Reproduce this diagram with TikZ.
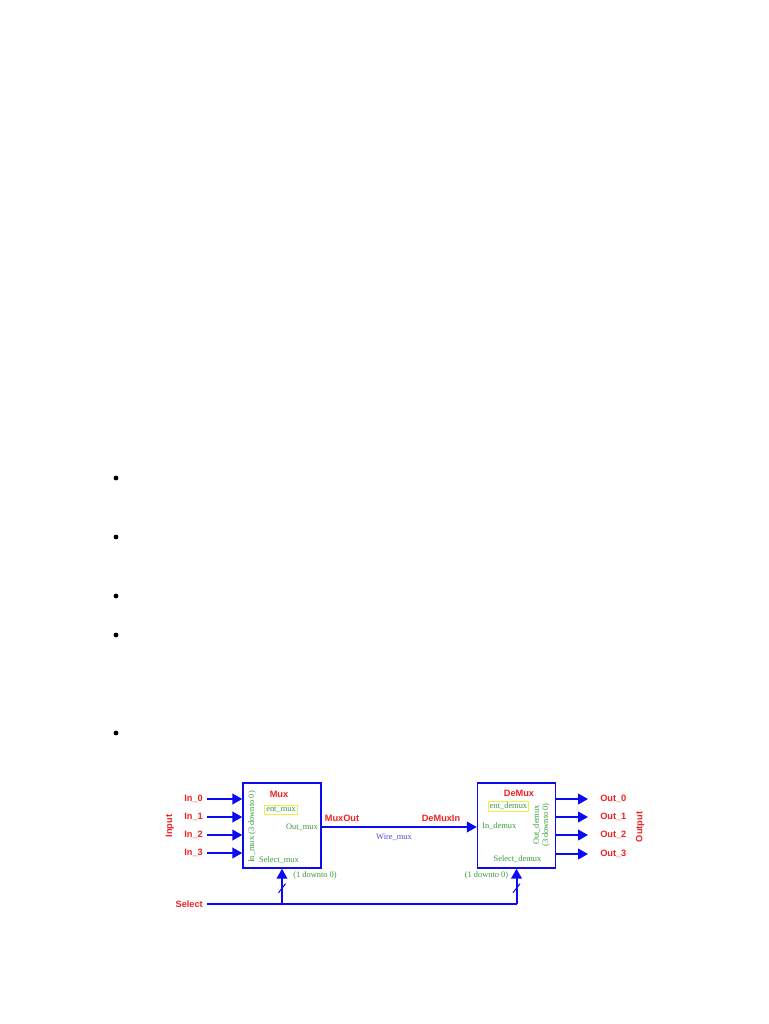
\documentclass[tikz,border=0pt]{standalone}
\usepackage{fontspec}
\setmainfont{Liberation Serif}
\setsansfont{Liberation Sans}
\usepackage{xcolor}
\usepackage{tikz}
\usetikzlibrary{arrows.meta, positioning, calc}
\definecolor{WireBlue}{HTML}{0A0AF5}
\definecolor{PortRed}{HTML}{F02020}
\definecolor{TextGreen}{HTML}{359A35}
\definecolor{EntYellow}{HTML}{EEEE44}
\definecolor{WireText}{HTML}{4A4AD8}

\begin{document}
\begin{tikzpicture}[x=0.75pt, y=-0.75pt, >={Triangle[length=7.5pt,width=8pt]}]
    \tikzstyle{block} = [rectangle, draw=WireBlue, line width=1.1pt, minimum width=58.5pt, minimum height=63.75pt, inner sep=0pt]
    \tikzstyle{wire} = [draw=WireBlue, line width=1.5pt]
    \tikzstyle{port} = [text=PortRed, font=\sffamily\bfseries\fontsize{6.9}{8}\selectfont, inner sep=0pt]
    \tikzstyle{pin} = [text=TextGreen, font=\fontsize{6.3}{7}\selectfont, inner sep=0pt]
    \tikzstyle{ent} = [pin, draw=EntYellow, line width=0.6pt, inner sep=1.2pt]
    \tikzstyle{bullet} = [circle, fill=black, inner sep=0pt, minimum size=3.6pt]

    \useasboundingbox (0,0) rectangle (768,1024);

    % bullets of the list above the picture
    \foreach \i/\y in {1/478, 2/537, 3/596, 4/635, 5/733}
        \node [bullet] (b\i) at (116,\y) {};

    % the two entities
    \node [block] (mux) at (282,825.5) {};
    \node [block] (demux) at (516.5,825.5) {};

    \node [port] (muxname) at (279,794) {Mux};
    \node [ent] (entmux) at (281,809.5) {ent\_mux};
    \node [pin, anchor=east] (outmux) at (318,827) {Out\_mux};
    \node [pin] (selmux) at (279,860) {Select\_mux};
    \node [pin, rotate=90] (inmux) at (252,827) {In\_mux (3 downto 0)};

    \node [port] (demuxname) at (519,793) {DeMux};
    \node [ent] (entdemux) at (508.5,806.5) {ent\_demux};
    \node [pin, anchor=west] (indemux) at (482,826) {In\_demux};
    \node [pin, rotate=90, align=center] (outdemux) at (541.5,825) {Out\_demux\\(3 downto 0)};
    \node [pin] (seldemux) at (517.5,859) {Select\_demux};

    % inputs
    \foreach \i/\y in {0/799, 1/817, 2/835, 3/853} {
        \coordinate (in\i) at (207,\y);
        \node [port, left=3pt of in\i] (lin\i) {In\_\i};
        \path [wire, ->] (in\i) -- (in\i -| mux.west);
    }
    \node [port, rotate=90] (input) at (170,826) {Input};

    % outputs
    \foreach \i/\y in {0/799, 1/817, 2/835, 3/854} {
        \coordinate (out\i) at (588,\y);
        \node [port, right=9pt of out\i] (lout\i) {Out\_\i};
        \path [wire, ->] (out\i -| demux.east) -- (out\i);
    }
    \node [port, rotate=90] (output) at (640,827) {Output};

    % wire between the entities
    \path [wire, ->] (mux.east |- 0,827) -- (demux.west |- 0,827);
    \node [port] (muxout) at (342,818) {MuxOut};
    \node [port] (demuxin) at (441,818) {DeMuxIn};
    \node [text=WireText, font=\fontsize{6.3}{7}\selectfont, inner sep=0pt] (wiremux) at (394,837) {Wire\_mux};

    % select bus
    \coordinate (sel) at (207,904);
    \node [port, left=3pt of sel] (lsel) {Select};
    \path [wire] (sel) -- (sel -| demux.south);
    \path [wire, ->] (sel -| mux.south) -- (mux.south);
    \path [wire, ->] (sel -| demux.south) -- (demux.south);
    \draw [WireBlue, line width=0.8pt] ($(mux.south)+(-3.5,24)$) -- ++(7,-9);
    \draw [WireBlue, line width=0.8pt] ($(demux.south)+(-3.5,24)$) -- ++(7,-9);
    \node [pin] (rngmux) at (315,875) {(1 downto 0)};
    \node [pin] (rngdemux) at (486.5,875) {(1 downto 0)};
\end{tikzpicture}
\end{document}
